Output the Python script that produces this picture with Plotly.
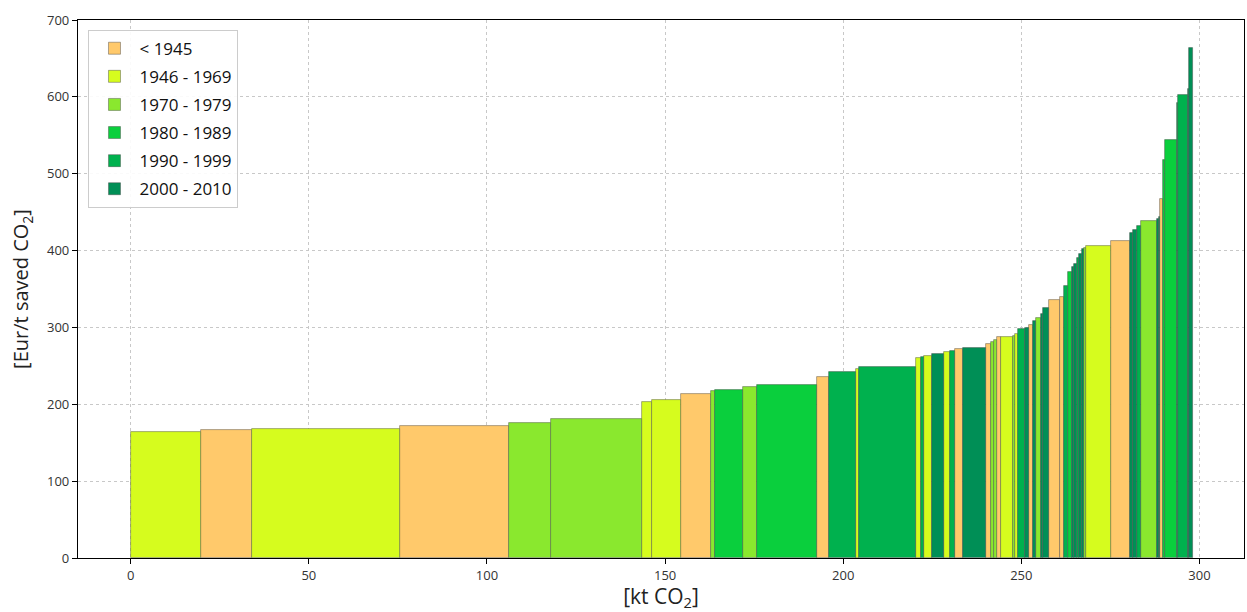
import numpy as np
import plotly.graph_objects as go

periods = ["< 1945", "1946 - 1969", "1970 - 1979", "1980 - 1989", "1990 - 1999", "2000 - 2010"]
colors = ["#FFC96B", "#D6FC1E", "#8AE82E", "#0ACF3D", "#00B14E", "#008F56"]

# CO2 saved per measure [kt CO2]
saved_kt = [19.8, 14.3, 41.6, 30.6, 11.7, 25.4, 2.9, 8.2, 8.3, 1.2, 7.8, 3.9, 16.9, 3.4, 7.5, 0.9,
            16.0, 1.3, 0.9, 2.4, 3.2, 1.9, 1.4, 2.2, 6.3, 1.6, 0.7, 1.0, 1.1, 3.2, 0.6, 1.0,
            1.7, 1.2, 1.3, 0.8, 1.2, 0.7, 1.6, 3.2, 1.1, 1.2, 1.1, 0.6, 0.6, 0.7, 0.7, 0.6,
            0.6, 7.1, 5.4, 0.7, 1.1, 1.2, 4.4, 0.5, 0.5, 0.9, 0.5, 3.2, 0.5, 2.6, 0.5, 1.1]
# abatement cost [Eur/t saved CO2]
cost = [163.5, 166.4, 168.2, 171.3, 175.2, 181, 202.9, 205.5, 213.3, 217, 218.9, 222.8, 225, 236,
        241.5, 246, 249, 259.7, 261, 263, 265.6, 267.5, 268.8, 271.8, 273.5, 278, 281, 284, 287,
        287, 288.7, 291, 298.6, 299, 303, 308.6, 312, 318, 325, 335.5, 340, 354, 371.5, 379, 382,
        390, 396, 401.8, 404, 406, 412.7, 423.5, 426.5, 432, 438, 441, 444, 467, 517.5, 544.5,
        592.6, 603, 610, 663.6]
# construction period index of each measure
period_idx = [1, 0, 1, 0, 2, 2, 1, 1, 0, 2, 3, 2, 3, 0, 4, 1, 4, 1, 4, 1, 5, 1, 4, 0, 5, 0, 2, 2,
              0, 1, 2, 1, 4, 5, 0, 5, 2, 5, 5, 0, 0, 4, 3, 5, 5, 4, 5, 5, 2, 1, 0, 5, 5, 4, 2, 5,
              5, 0, 3, 3, 4, 4, 5, 5]

w = np.array(saved_kt)
right = np.cumsum(w)
centers = right - w / 2
c = np.array(cost)
p = np.array(period_idx)

fig = go.Figure()
for k, name in enumerate(periods):
    m = p == k
    fig.add_trace(go.Bar(
        x=centers[m], y=c[m], width=w[m], name=name, legendgroup=name,
        marker=dict(color=colors[k], line=dict(color="rgba(70,70,70,0.55)", width=0.8)),
        hovertemplate="%{y:.1f} Eur/t<extra>" + name + "</extra>",
    ))

fig.update_layout(
    width=1247, height=612,
    barmode="overlay", bargap=0,
    paper_bgcolor="white", plot_bgcolor="white",
    margin=dict(l=78, r=3, t=20, b=54),
    font=dict(family="Open Sans, DejaVu Sans, sans-serif", color="#222"),
    legend=dict(
        x=0.009, y=0.982, xanchor="left", yanchor="top",
        bgcolor="rgba(255,255,255,0.9)", bordercolor="#cccccc", borderwidth=1,
        font=dict(size=17, color="#111"), traceorder="grouped", itemwidth=40,
        tracegroupgap=3,
    ),
    xaxis=dict(
        range=[-14.8, 312.5], tickmode="array", tickvals=[0, 50, 100, 150, 200, 250, 300],
        showline=True, linecolor="black", linewidth=1.2, mirror=True,
        ticks="outside", ticklen=5, tickcolor="black",
        showgrid=True, gridcolor="#c8c8c8", griddash="dot", gridwidth=1,
        zeroline=False, tickfont=dict(size=13, color="#333"),
        title=dict(text="[kt CO<sub>2</sub>]", font=dict(size=21, color="#222"), standoff=4),
    ),
    yaxis=dict(
        range=[0, 700], tickmode="array", tickvals=[0, 100, 200, 300, 400, 500, 600, 700],
        showline=True, linecolor="black", linewidth=1.2, mirror=True,
        ticks="outside", ticklen=5, tickcolor="black",
        showgrid=True, gridcolor="#c8c8c8", griddash="dot", gridwidth=1,
        zeroline=False, tickfont=dict(size=13, color="#333"),
        title=dict(text="[Eur/t saved CO<sub>2</sub>]", font=dict(size=20, color="#222"), standoff=12),
    ),
)

fig.write_html("out.html")
